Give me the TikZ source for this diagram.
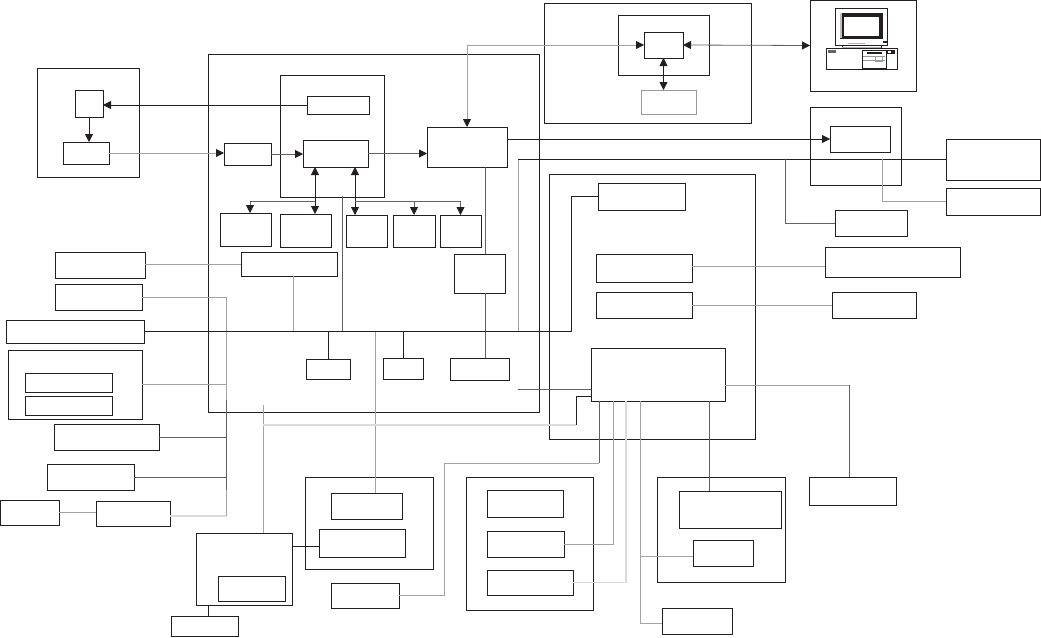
\documentclass[tikz,border=0pt]{standalone}
\usetikzlibrary{arrows.meta,fit}

\definecolor{ink}{HTML}{231F20}

\tikzset{
    box/.style={draw=ink, line width=0.9pt, inner sep=0pt, outer sep=0pt},
    palebox/.style={draw=black!40, line width=0.8pt, inner sep=0pt, outer sep=0pt},
    inkwire/.style={draw=ink, line width=0.8pt},
    darkwire/.style={draw=black!62, line width=0.8pt},
    midwire/.style={draw=black!36, line width=0.9pt},
    palewire/.style={draw=black!14, line width=1.2pt}
}

\begin{document}
\begin{tikzpicture}[x=1pt, y=-1pt, >={Triangle[length=8pt, width=8pt, color=ink]}]
    \useasboundingbox (0,0) rectangle (1041,637);

    % frames and boxes
    \foreach \name/\xa/\ya/\xb/\yb in {
        hostframe/37/68/139/177, hosttop/75/90/103/117, hostlow/63/142/109/164,
        mainframe/208/54/539/412, coreframe/280/75/384/197,
        corereg/307/96/369/114, corealu/303/140/368/167,
        inport/224/143/271/165, bridge/427/127/507/167,
        slota/220/213/271/246, slotb/280/214/331/247, slotc/346/215/387/247,
        slotd/393/215/435/247, slote/440/215/481/247,
        ctrl/241/252/337/276, buf/454/254/505/293,
        deva/306/359/350/379, devb/383/358/423/379, devc/450/358/509/380,
        exta/55/252/145/278, extb/55/284/142/310, extc/6/320/144/343,
        extgroup/8/350/142/419, extgroupa/25/373/112/392, extgroupb/25/396/112/415,
        extd/54/424/159/450, exte/47/464/134/490, extf/0/500/59/525, extk/96/501/170/526,
        hub/196/533/292/605, hubcard/218/576/285/601, hubfoot/171/616/238/636,
        gbframe/305/477/433/569, gba/331/493/402/519, gbb/319/529/405/557, gbc/331/583/399/608,
        gcframe/466/477/593/610, gca/487/490/563/517, gcb/487/531/564/557, gcc/487/570/573/595,
        gdframe/657/477/785/582, gda/679/491/781/528, gdb/693/540/753/566, gdc/662/608/732/634,
        rbox/809/477/896/505,
        periframe/549/174/755/439, pera/598/183/685/210, perb/596/254/692/282,
        perc/596/292/692/318, perbridge/591/348/725/401,
        netframe/810/107/901/185, netcard/830/126/890/152,
        neta/946/139/1040/180, netb/946/188/1040/215, netc/835/210/907/236,
        netd/825/247/960/277, nete/832/292/916/318,
        topframe/544/3/751/123, topinner/618/15/709/75, topcore/644/32/683/58,
        pcframe/810/0/916/91
    } {
        \node[box, fit={(\xa,\ya) (\xb,\yb)}] (\name) {};
    }
    \node[palebox, fit={(641,90) (696,114)}] (toppale) {};

    % junctions and free ends
    \foreach \name/\x/\y in {
        bitapa/315/190, bitapb/355/190, busa/315/201, busb/355/201, dropa/250/201,
        railtop/518/159, tapa/785/159, tapb/882/159,
        buselbow/571/331, bustapa/293/331, bustapb/485/331, bustapc/375/331,
        coredrop/342/196, raillow/518/331,
        tracktop/226/400, tracklow/226/490, trackend/226/516,
        hubtop/263/405, hubtap/263/425, jogbase/576/425, jogtop/576/396,
        hublink/300/546, footlink/208/610, bridgein/518/389,
        turnb/444/463, turna/599/463, dropc/613/500, dropd/626/500,
        dropf/640/623, tape/640/556, dropg/709/491,
        rightturn/849/385, tapd/760/266
    } {
        \coordinate (\name) at (\x,\y);
    }

    % straight connectors
    \foreach \from/\to/\look in {
        railtop/raillow/midwire,
        neta.west |- railtop/railtop/inkwire,
        coredrop/coredrop |- buselbow/darkwire,
        bustapa/bustapa |- ctrl.south/midwire,
        deva.north/deva.north |- buselbow/inkwire,
        devb.north/devb.north |- buselbow/inkwire,
        bustapb |- bridge.south/bustapb |- buf.north/darkwire,
        bustapb |- buf.south/bustapb |- devc.north/darkwire,
        bustapc/bustapc |- gba.north/midwire,
        exta.east |- ctrl.west/ctrl.west/midwire,
        tracktop/tracklow/darkwire,
        tracklow/trackend/midwire,
        trackend/extk.east |- trackend/palewire,
        extgroup.east/extgroup.east -| tracktop/midwire,
        extd.east/extd.east -| tracktop/darkwire,
        exte.east/exte.east -| tracktop/darkwire,
        extf.east/extk.west |- extf.east/midwire,
        hubtop/hubtop |- hub.north/midwire,
        hubtap/jogbase/palewire,
        jogbase/jogtop/inkwire,
        jogtop/perbridge.west |- jogtop/inkwire,
        bridgein/perbridge.west |- bridgein/darkwire,
        hub.east |- hublink/gbb.west |- hublink/inkwire,
        footlink |- hub.south/footlink |- hubfoot.north/inkwire,
        perbridge.south -| turna/turna/darkwire,
        turna/turnb/midwire,
        perbridge.south -| dropf/tape/midwire,
        tape/dropf/midwire,
        dropf/gdc.west |- dropf/midwire,
        tape/gdb.west |- tape/midwire,
        dropg |- perbridge.south/dropg |- gda.north/darkwire,
        perbridge.east |- rightturn/rightturn/midwire,
        rightturn/rightturn |- rbox.north/darkwire,
        perb.east |- tapd/netd.west |- tapd/midwire,
        perc.east/nete.west |- perc.east/midwire%
    } {
        \draw[\look] (\from) -- (\to);
    }

    % connectors with a corner
    \draw[midwire] (extb.east) -| (tracktop);
    \draw[midwire] (turnb) |- (gbc.east);
    \draw[midwire] (gcb.east) -| (perbridge.south -| dropc);
    \draw[palewire] (gcc.east) -| (perbridge.south -| dropd);
    \draw[darkwire] (tapa) |- (netc.west);
    \draw[midwire] (tapb) |- (netb.west);
    \draw[inkwire] (extc.east) -- (extc.east -| buselbow) |- (pera.west);

    % arrows
    \draw[inkwire, ->] (hosttop.south) -- (hostlow.north -| hosttop.south);
    \draw[inkwire, ->] (corereg.west) -- (hosttop.east |- corereg.west);
    \draw[midwire, ->] (hostlow.east) -- (inport.west |- hostlow.east);
    \draw[darkwire, ->] (inport.east) -- (corealu.west |- inport.east);
    \draw[darkwire, ->] (corealu.east) -- (bridge.west |- corealu.east);
    \draw[inkwire, <->] (corealu.south -| bitapa) -- (slotb.north -| bitapa);
    \draw[inkwire, <->] (corealu.south -| bitapb) -- (slotc.north -| bitapb);
    \draw[darkwire] (busa) -- (dropa);
    \draw[darkwire, ->] (dropa) -- (dropa |- slota.north);
    \draw[darkwire, ->] (busb) -| (slote.north);
    \draw[darkwire, ->] (slotd.north |- busb) -- (slotd.north);
    \draw[midwire, <->] (bridge.north) |- (topcore.west);
    \draw[darkwire, <->] (topcore.east) -- (pcframe.west);
    \draw[inkwire, <->] (topcore.south) -- (toppale.north -| topcore.south);
    \draw[inkwire, ->] (bridge.east |- netcard.west) -- (netcard.west);

    % the computer
    \draw[box] (835,8) rectangle (887,45);
    \fill[ink] (840,13) rectangle (883,39);
    \fill[white] (844,17) rectangle (879,36);
    \fill[black!25] (840,13) rectangle (842,38);
    \fill[ink] (883,41) rectangle (887,43);
    \draw[ink, line width=0.7pt] (842,45) -- (842,48) (881,45) -- (881,48);
    \draw[black!30, line width=0.7pt] (842,47) -- (881,47) (848,43) -- (865,43);
    \draw[box] (826,48) rectangle (897,69);
    \draw[box] (862,50) rectangle (886,68);
    \fill[ink] (867,52) rectangle (882,54);
    \fill[black!60] (828,50) rectangle (836,52.5);
    \fill[ink] (887,50) rectangle (895,54);
    \fill[white] (888,51) rectangle (891,53);
    \draw[black!40, line width=0.4pt] (863,56) -- (885,56) (863,60) -- (885,60) (875,56) rectangle (882,61);
\end{tikzpicture}
\end{document}
